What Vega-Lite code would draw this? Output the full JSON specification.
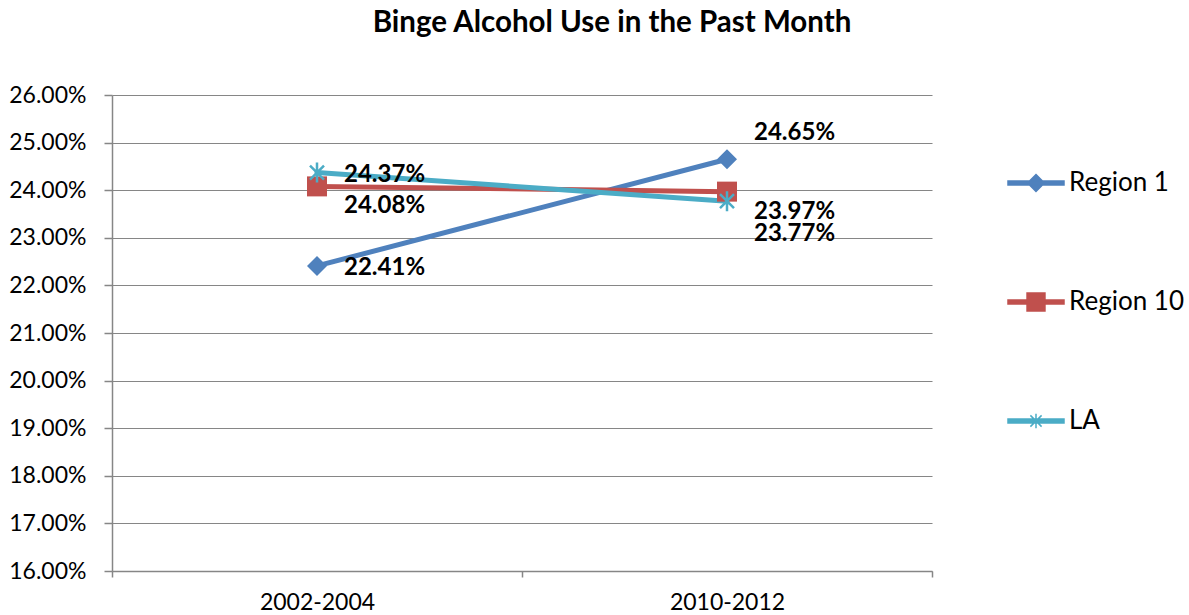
{
  "$schema": "https://vega.github.io/schema/vega-lite/v6.json",
  "autosize": {"type": "none"},
  "width": 820,
  "height": 476,
  "padding": {"left": 112, "top": 95, "right": 257, "bottom": 44},
  "background": "white",
  "title": {
    "text": "Binge Alcohol Use in the Past Month",
    "font": "Lato",
    "fontSize": 29.5,
    "fontWeight": "bold",
    "color": "#000000",
    "anchor": "middle",
    "dx": 90,
    "offset": 46
  },
  "config": {
    "view": {"stroke": null},
    "font": "Lato",
    "axis": {
      "labelFont": "Lato",
      "labelFontSize": 23,
      "labelColor": "#000000",
      "domainColor": "#868686",
      "tickColor": "#868686",
      "gridColor": "#868686",
      "domainWidth": 1.5,
      "tickWidth": 1.5,
      "gridWidth": 1.2,
      "labelOverlap": false,
      "title": null
    }
  },
  "data": {
    "values": [
      {"period": "2002-2004", "series": "Region 1", "value": 0.2241, "label": "22.41%"},
      {"period": "2010-2012", "series": "Region 1", "value": 0.2465, "label": "24.65%"},
      {"period": "2002-2004", "series": "Region 10", "value": 0.2408, "label": "24.08%"},
      {"period": "2010-2012", "series": "Region 10", "value": 0.2397, "label": "23.97%"},
      {"period": "2002-2004", "series": "LA", "value": 0.2437, "label": "24.37%"},
      {"period": "2010-2012", "series": "LA", "value": 0.2377, "label": "23.77%"}
    ]
  },
  "encoding": {
    "x": {
      "field": "period",
      "type": "nominal",
      "bandPosition": 0.5,
      "scale": {"type": "band", "paddingInner": 0, "paddingOuter": 0},
      "axis": {
        "labelAngle": 0,
        "tickBand": "extent",
        "tickSize": 6,
        "labelPadding": 14,
        "grid": false
      }
    },
    "y": {
      "field": "value",
      "type": "quantitative",
      "scale": {"domain": [0.16, 0.26], "nice": false, "zero": false},
      "axis": {
        "format": ".2%",
        "values": [0.16, 0.17, 0.18, 0.19, 0.2, 0.21, 0.22, 0.23, 0.24, 0.25, 0.26],
        "tickSize": 8,
        "labelPadding": 18,
        "grid": true
      }
    }
  },
  "layer": [
    {
      "mark": {"type": "line", "strokeWidth": 5, "strokeCap": "round"},
      "encoding": {
        "color": {
          "field": "series",
          "type": "nominal",
          "sort": ["Region 1", "Region 10", "LA"],
          "scale": {"domain": ["Region 1", "Region 10", "LA"], "range": ["#4F81BD", "#C0504D", "#4BACC6"]},
          "legend": {
            "title": null,
            "orient": "none",
            "legendX": 895,
            "legendY": 59,
            "symbolSize": 3136,
            "labelFont": "Lato",
            "labelFontSize": 26,
            "labelColor": "#000000",
            "labelOffset": 4,
            "rowPadding": 77,
            "encode": {
              "symbols": {
                "update": {
                  "shape": {"signal": "datum.value === 'Region 1' ? 'M-1,-0.07L1,-0.07L1,0.07L-1,0.07Z M0,-0.3L0.3,0L0,0.3L-0.3,0Z' : datum.value === 'Region 10' ? 'M-1,-0.07L1,-0.07L1,0.07L-1,0.07Z M-0.32,-0.32L0.32,-0.32L0.32,0.32L-0.32,0.32Z' : 'M-1,-0.07L1,-0.07L1,0.07L-1,0.07Z M-0.2,-0.2L0.2,0.2M-0.2,0.2L0.2,-0.2M0,-0.26L0,0.26'"},
                  "fill": {"scale": "color", "field": "value"},
                  "stroke": {"scale": "color", "field": "value"},
                  "strokeWidth": {"value": 1.5},
                  "opacity": {"value": 1},
                  "fillOpacity": {"value": 1}
                }
              }
            }
          }
        }
      }
    },
    {
      "transform": [{"filter": "datum.series !== 'LA'"}],
      "mark": {"type": "point", "filled": true, "opacity": 1, "size": 400},
      "encoding": {
        "color": {"field": "series", "type": "nominal"},
        "shape": {
          "field": "series",
          "type": "nominal",
          "scale": {"domain": ["Region 1", "Region 10"], "range": ["diamond", "square"]},
          "legend": null
        }
      }
    },
    {
      "transform": [{"filter": "datum.series === 'LA'"}],
      "mark": {"type": "point", "filled": false, "opacity": 1, "size": 400, "strokeWidth": 2.5, "shape": "M-0.7,-0.7L0.7,0.7M-0.7,0.7L0.7,-0.7M0,-1L0,1"},
      "encoding": {
        "color": {"field": "series", "type": "nominal"}
      }
    },
    {
      "transform": [{"filter": "datum.label === '22.41%' || datum.label === '24.37%'"}],
      "mark": {"type": "text", "align": "left", "baseline": "middle", "dx": 27, "dy": 2, "font": "Lato", "fontSize": 24, "fontWeight": "bold", "color": "#000000"},
      "encoding": {"text": {"field": "label"}}
    },
    {
      "transform": [{"filter": "datum.label === '24.08%' || datum.label === '23.97%'"}],
      "mark": {"type": "text", "align": "left", "baseline": "middle", "dx": 27, "dy": 20, "font": "Lato", "fontSize": 24, "fontWeight": "bold", "color": "#000000"},
      "encoding": {"text": {"field": "label"}}
    },
    {
      "transform": [{"filter": "datum.label === '24.65%'"}],
      "mark": {"type": "text", "align": "left", "baseline": "middle", "dx": 27, "dy": -26, "font": "Lato", "fontSize": 24, "fontWeight": "bold", "color": "#000000"},
      "encoding": {"text": {"field": "label"}}
    },
    {
      "transform": [{"filter": "datum.label === '23.77%'"}],
      "mark": {"type": "text", "align": "left", "baseline": "middle", "dx": 27, "dy": 33, "font": "Lato", "fontSize": 24, "fontWeight": "bold", "color": "#000000"},
      "encoding": {"text": {"field": "label"}}
    }
  ]
}
